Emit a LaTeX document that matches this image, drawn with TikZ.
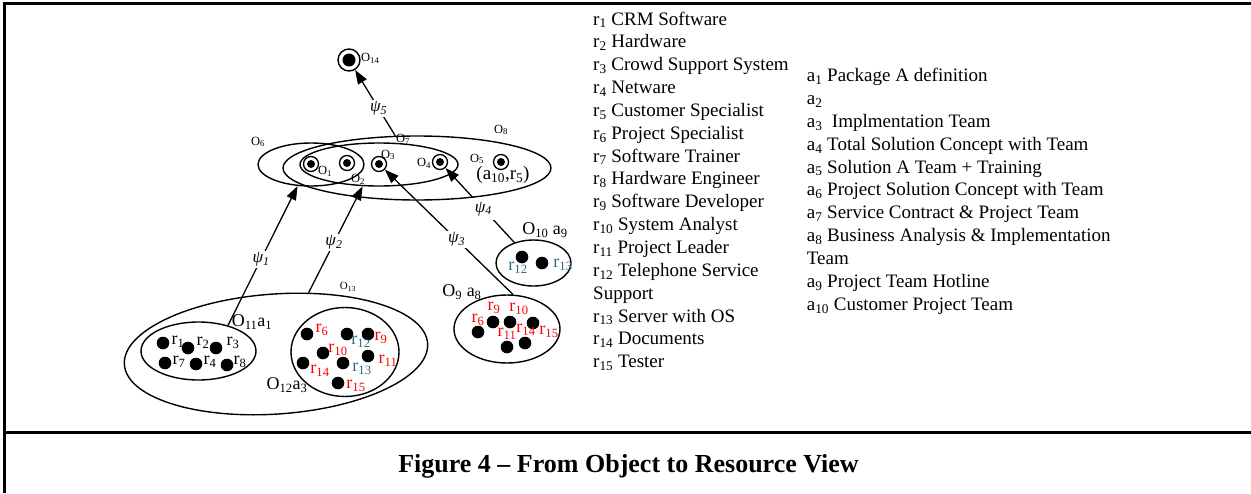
\documentclass[tikz,border=0pt]{standalone}
\usepackage{fontspec}
\setmainfont{Liberation Serif}
\usetikzlibrary{shapes.geometric,arrows.meta}
\definecolor{rred}{RGB}{255,0,0}
\definecolor{rteal}{RGB}{49,106,128}
\newcommand{\rsub}[1]{r\textsubscript{#1}}
\newcommand{\asub}[1]{a\textsubscript{#1}}
\newcommand{\osub}[1]{O\textsubscript{#1}}
\tikzstyle{border}=[line width=3pt]
\tikzstyle{obj}=[draw,ellipse,line width=1.4pt,inner sep=0pt]
\tikzstyle{atom}=[draw,circle,line width=1.3pt,inner sep=0pt,minimum size=15pt,
  path picture={\fill (path picture bounding box.center) circle (4pt);}]
\tikzstyle{bigatom}=[draw,circle,line width=1.4pt,inner sep=0pt,minimum size=22pt,
  path picture={\fill (path picture bounding box.center) circle (6.5pt);}]
\tikzstyle{res}=[fill,circle,inner sep=0pt,minimum size=12.6pt]
\tikzstyle{psi}=[line width=1.3pt,-{Triangle[length=14pt,width=10pt]}]
\tikzstyle{psilabel}=[fill=white,inner sep=1.5pt,font=\fontsize{17}{17}\selectfont\itshape]
\tikzstyle{olabel}=[inner sep=0pt,font=\fontsize{12.5}{12.5}\selectfont]
\tikzstyle{rlabel}=[inner sep=0pt,font=\fontsize{18}{18}\selectfont]
\tikzstyle{listline}=[anchor=base west,inner sep=0pt,font=\fontsize{19}{19}\selectfont]

\begin{document}
\begin{tikzpicture}[x=1pt,y=-1pt]
	\useasboundingbox (0,0) rectangle (1251,493);
	\draw[border] (2.5,3.5)--(1251,3.5);
	\draw[border] (4,2)--(4,493);
	\draw[border] (2.5,432)--(1251,432);

	% objects of the upper level
	\node[obj,minimum width=106pt,minimum height=43pt] (o6) at (311,164.5) {};
	\node[obj,minimum width=158pt,minimum height=43pt] (o7) at (379,164.5) {};
	\node[obj,minimum width=268pt,minimum height=64pt] (o8) at (417,168) {};
	\node[atom] (o1) at (311,164) {};
	\node[atom] (o2) at (347,163) {};
	\node[atom] (o3) at (379,164) {};
	\node[atom] (o4) at (440,162) {};
	\node[atom] (o5) at (501,162) {};
	\node[bigatom] (o14) at (349,60) {};

	\node[olabel] (t1) at (325,171) {\osub{1}};
	\node[olabel] (t2) at (358,179) {\osub{2}};
	\node[olabel] (t3) at (388,155) {\osub{3}};
	\node[olabel] (t4) at (424,163) {\osub{4}};
	\node[olabel] (t5) at (477,159) {\osub{5}};
	\node[olabel] (t6) at (258,142) {\osub{6}};
	\node[olabel] (t7) at (403,139) {\osub{7}};
	\node[olabel] (t8) at (501,130) {\osub{8}};
	\node[olabel,anchor=west] (t14) at (361,58) {\osub{14}};
	\node[rlabel,font=\fontsize{19}{19}\selectfont] (t5r) at (503,175) {(\asub{10},\rsub{5})};

	% objects of the resource level
	\node[obj,minimum width=304pt,minimum height=120pt,rotate=4] (o13) at (276,354) {};
	\node[obj,minimum width=115pt,minimum height=58pt] (o11) at (198.5,351) {};
	\node[obj,minimum width=108pt,minimum height=89pt] (o12) at (345,352) {};
	\node[obj,minimum width=106pt,minimum height=68pt] (o9) at (507,329) {};
	\node[obj,minimum width=75pt,minimum height=46pt] (o10) at (533.5,263) {};

	\node[olabel,font=\fontsize{11}{11}\selectfont] (t13) at (348,287) {\osub{13}};
	\node[rlabel] (t11) at (252,322) {\osub{11}\asub{1}};
	\node[rlabel] (t12) at (287,385) {\osub{12}\asub{3}};
	\node[rlabel] (t9) at (462,292) {\osub{9} \asub{8}};
	\node[rlabel] (t10) at (545,230) {\osub{10} \asub{9}};

	% resources in O11
	\node[res] (a1) at (163,343) {};
	\node[res] (a2) at (188,348) {};
	\node[res] (a3) at (216,348) {};
	\node[res] (a7) at (165,363) {};
	\node[res] (a4) at (196,364) {};
	\node[res] (a8) at (227,365) {};
	\node[rlabel] (la1) at (178,342) {\rsub{1}};
	\node[rlabel] (la2) at (203,343) {\rsub{2}};
	\node[rlabel] (la3) at (233,343) {\rsub{3}};
	\node[rlabel] (la7) at (179,362) {\rsub{7}};
	\node[rlabel] (la4) at (210,362) {\rsub{4}};
	\node[rlabel] (la8) at (240,362) {\rsub{8}};

	% resources in O12
	\node[res] (b6) at (307,334) {};
	\node[res] (b12) at (347,334) {};
	\node[res] (b9) at (368,334) {};
	\node[res] (b10) at (323,353) {};
	\node[res] (b11) at (368,356) {};
	\node[res] (b14) at (303,363) {};
	\node[res] (b13) at (343,363) {};
	\node[res] (b15) at (338,383) {};
	\node[rlabel,rred] (lb6) at (322,330) {\rsub{6}};
	\node[rlabel,rteal] (lb12) at (361,342) {\rsub{12}};
	\node[rlabel,rred] (lb9) at (381,338) {\rsub{9}};
	\node[rlabel,rred] (lb10) at (338,350) {\rsub{10}};
	\node[rlabel,rred] (lb11) at (388,361) {\rsub{11}};
	\node[rlabel,rred] (lb14) at (320,371) {\rsub{14}};
	\node[rlabel,rteal] (lb13) at (362,369) {\rsub{13}};
	\node[rlabel,rred] (lb15) at (356,386) {\rsub{15}};

	% resources in O9
	\node[res] (c6) at (478,332) {};
	\node[res] (c9) at (493,322) {};
	\node[res] (c10) at (510,322) {};
	\node[res] (c15) at (533,323) {};
	\node[res] (c11) at (507,347) {};
	\node[res] (c14) at (525,343) {};
	\node[rlabel,rred] (lc6) at (478,320) {\rsub{6}};
	\node[rlabel,rred] (lc9) at (494,308) {\rsub{9}};
	\node[rlabel,rred] (lc10) at (519,309) {\rsub{10}};
	\node[rlabel,rred] (lc11) at (507,334) {\rsub{11}};
	\node[rlabel,rred] (lc14) at (526,330) {\rsub{14}};
	\node[rlabel,rred] (lc15) at (549,332) {\rsub{15}};

	% resources in O10
	\node[res] (e12) at (522,257) {};
	\node[res] (e13) at (542,263) {};
	\node[rlabel,rteal] (le12) at (518,268) {\rsub{12}};
	\node[rlabel,rteal] (le13) at (563,265) {\rsub{13}};

	% mappings
	\draw[psi] (o11.41) -- node[psilabel,pos=0.475] (psi1) {ψ\textsubscript{1}} (o6.238);
	\draw[psi] (o13.58) -- node[psilabel,pos=0.47] (psi2) {ψ\textsubscript{2}} (o7.233);
	\draw[psi] (o9.80) -- node[psilabel,pos=0.44] (psi3) {ψ\textsubscript{3}} (o3);
	\draw[psi] (o10.133) -- node[psilabel,pos=0.45,inner xsep=5pt,inner ysep=4pt] (psi4) {ψ\textsubscript{4}} (o4);
	\draw[psi] (o8.124) -- node[psilabel,pos=0.415] (psi5) {ψ\textsubscript{5}} (o14);

	% resource legend
	\node[listline] (r1) at (593,25) {\rsub{1} CRM Software};
	\node[listline] (r2) at (593,47.85) {\rsub{2} Hardware};
	\node[listline] (r3) at (593,70.7) {\rsub{3} Crowd Support System};
	\node[listline] (r4) at (593,93.55) {\rsub{4} Netware};
	\node[listline] (r5) at (593,116.4) {\rsub{5} Customer Specialist};
	\node[listline] (r6) at (593,139.25) {\rsub{6} Project Specialist};
	\node[listline] (r7) at (593,162.1) {\rsub{7} Software Trainer};
	\node[listline] (r8) at (593,184.95) {\rsub{8} Hardware Engineer};
	\node[listline] (r9) at (593,207.8) {\rsub{9} Software Developer};
	\node[listline] (r10) at (593,230.65) {\rsub{10} System Analyst};
	\node[listline] (r11) at (593,253.5) {\rsub{11} Project Leader};
	\node[listline] (r12) at (593,276.35) {\rsub{12} Telephone Service};
	\node[listline] (r12b) at (593,299.2) {Support};
	\node[listline] (r13) at (593,322.05) {\rsub{13} Server with OS};
	\node[listline] (r14) at (593,344.9) {\rsub{14} Documents};
	\node[listline] (r15) at (593,367.75) {\rsub{15} Tester};

	% activity legend
	\node[listline] (s1) at (806.7,81.7) {\asub{1} Package A definition};
	\node[listline] (s2) at (806.7,104.55) {\asub{2}};
	\node[listline] (s3) at (806.7,127.4) {\asub{3} \ Implmentation Team};
	\node[listline] (s4) at (806.7,150.25) {\asub{4} Total Solution Concept with Team};
	\node[listline] (s5) at (806.7,173.1) {\asub{5} Solution A Team + Training};
	\node[listline] (s6) at (806.7,195.95) {\asub{6} Project Solution Concept with Team};
	\node[listline] (s7) at (806.7,218.8) {\asub{7} Service Contract \& Project Team};
	\node[listline] (s8) at (806.7,241.65) {\asub{8} Business Analysis \& Implementation};
	\node[listline] (s8b) at (806.7,264.5) {Team};
	\node[listline] (s9) at (806.7,287.35) {\asub{9} Project Team Hotline};
	\node[listline] (s10) at (806.7,310.2) {\asub{10} Customer Project Team};

	\node[font=\fontsize{26}{26}\selectfont\bfseries] (caption) at (628.5,466) {Figure 4 -- From Object to Resource View};
\end{tikzpicture}
\end{document}
